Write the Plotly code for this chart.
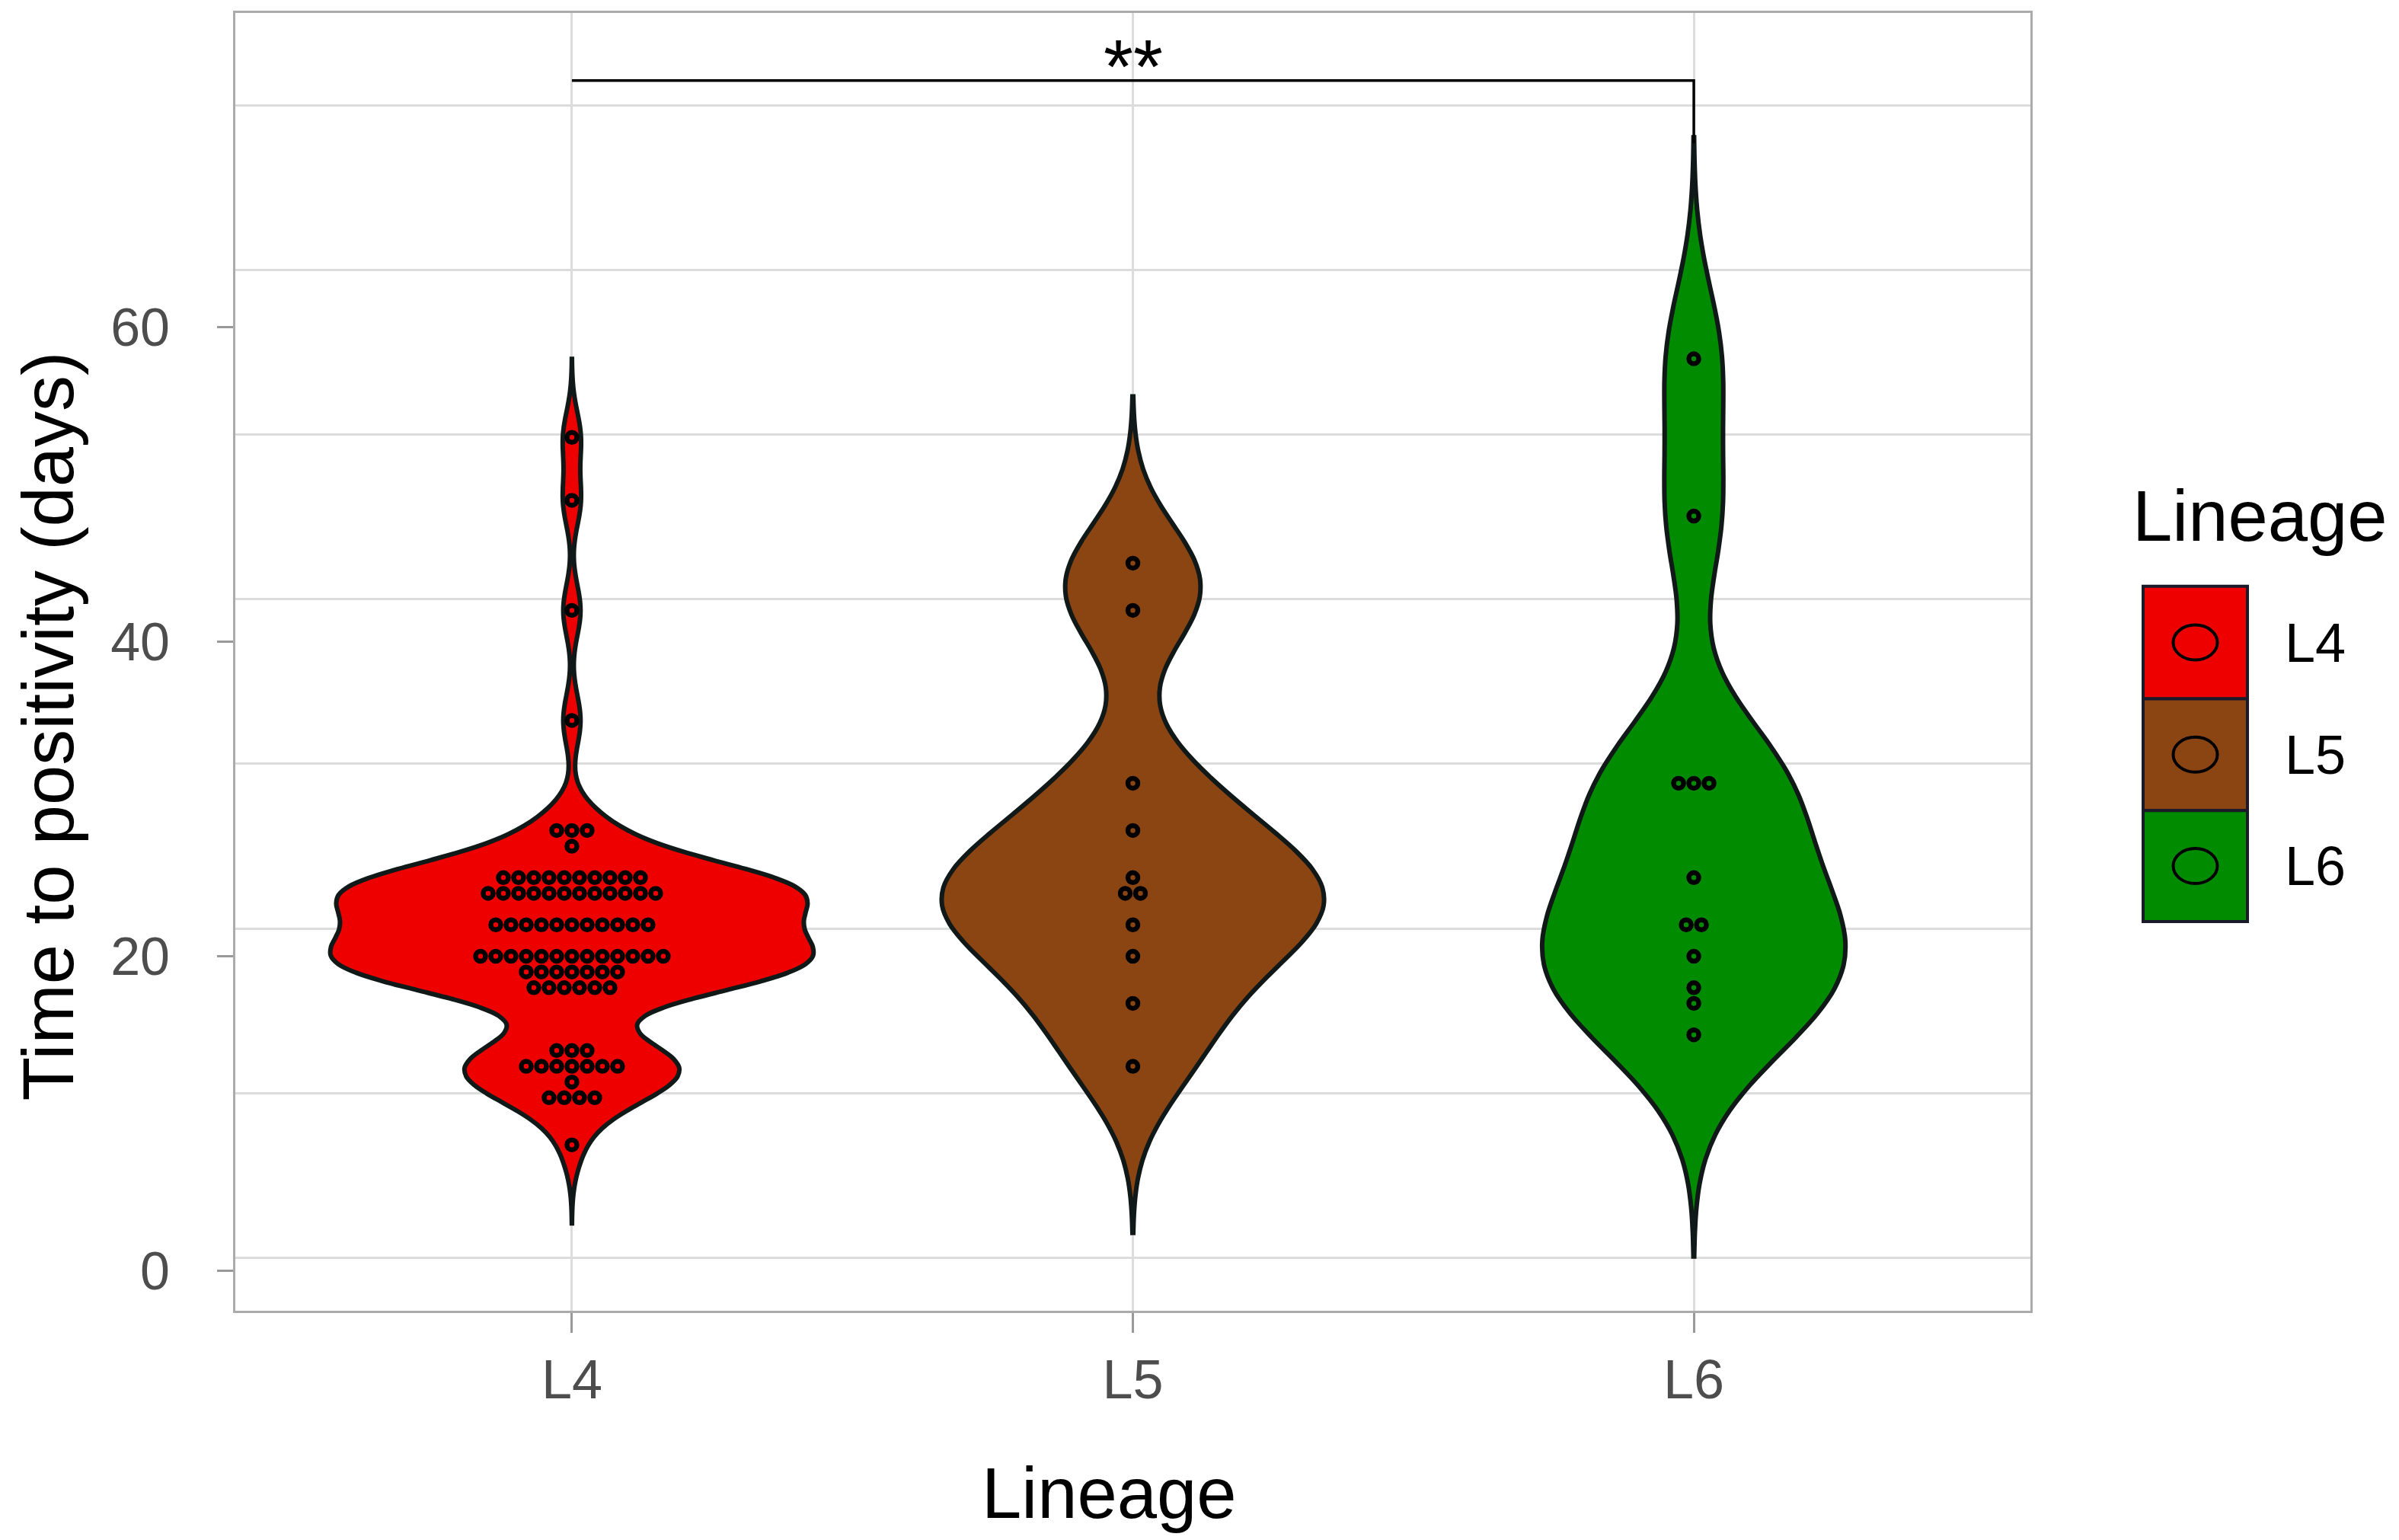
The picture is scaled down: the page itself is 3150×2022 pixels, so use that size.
import numpy as np
import plotly.graph_objects as go

# ---------------- data ----------------
categories = ["L4", "L5", "L6"]

l4_days = [8, 11, 12, 13, 14, 18, 19, 20, 22, 24, 25, 27, 28, 35, 42, 49, 53]
l4_counts = [1, 4, 1, 7, 3, 6, 7, 13, 11, 12, 10, 1, 3, 1, 1, 1, 1]

l5_days = [13, 17, 20, 22, 24, 25, 28, 31, 42, 45]
l5_counts = [1, 1, 1, 1, 2, 1, 1, 1, 1, 1]

l6_days = [15, 17, 18, 20, 22, 25, 31, 48, 58]
l6_counts = [1, 1, 1, 1, 2, 1, 3, 1, 1]

y_tick_values = [0, 20, 40, 60]
significance_label = "**"
significance_y = 75.7

# ---------------- styling ----------------
fill_colors = ["#EE0000", "#8B4513", "#008B00"]
violin_widths = [0.86, 0.68, 0.54]
FONT = "Liberation Sans, Arial, sans-serif"
GRID = "#DCDCDC"

W, H = 3150, 2022
L, R, T, B = 301, 2658, 6, 1713
PW, PH = R - L, B - T
x_range = [-0.6, 2.6]
y_range = [-2.55, 80.0]
# the picture's horizontal grid is offset / rescaled from its tick labels
grid_off, grid_scale = 0.82, 1.0474
y2_range = [(y_range[0] - grid_off) / grid_scale, (y_range[1] - grid_off) / grid_scale]


def px_x(px):
    return (px - L) / PW


def px_y(py):
    return (B - py) / PH


def nrd0(v):
    v = np.asarray(v, float)
    sd = v.std(ddof=1)
    q75, q25 = np.percentile(v, [75, 25])
    lo = min(sd, (q75 - q25) / 1.34)
    return 0.9 * lo * len(v) ** -0.2


groups = [(l4_days, l4_counts), (l5_days, l5_counts), (l6_days, l6_counts)]

fig = go.Figure()

dot_px = 20.0
dx = dot_px / (PW / (x_range[1] - x_range[0]))

for i, (days, counts) in enumerate(groups):
    vals = np.repeat(np.asarray(days, float), counts)
    bw = nrd0(vals)
    fig.add_trace(go.Violin(
        x0=i, y=vals, name=categories[i],
        fillcolor=fill_colors[i], opacity=1,
        line=dict(color="#101818", width=6),
        bandwidth=bw, spanmode="manual",
        span=[vals.min() - 3 * bw, vals.max() + 3 * bw],
        scalemode="width", width=violin_widths[i],
        points=False, box_visible=False, meanline_visible=False,
        showlegend=False, hoverinfo="skip",
    ))
    xs, ys = [], []
    for d, c in zip(days, counts):
        for k in range(c):
            xs.append(i + (k - (c - 1) / 2) * dx)
            ys.append(d)
    fig.add_trace(go.Scatter(
        x=xs, y=ys, mode="markers", showlegend=False, hoverinfo="skip",
        marker=dict(size=13, color=fill_colors[i], line=dict(color="black", width=6.5)),
    ))

# significance bracket
fig.add_trace(go.Scatter(
    x=[0, 2, 2], y=[significance_y, significance_y, significance_y - 4.0],
    mode="lines", line=dict(color="black", width=3.5), showlegend=False, hoverinfo="skip",
))
# empty trace to bind the grid axis
fig.add_trace(go.Scatter(x=[], y=[], yaxis="y2", showlegend=False))

annotations = [
    dict(x=1, y=significance_y + 0.9, xref="x", yref="y", text=significance_label,
         showarrow=False, xanchor="center", yanchor="middle",
         font=dict(family=FONT, size=100, color="black")),
    dict(x=px_x(55), y=px_y(944), xref="paper", yref="paper",
         text="Time to positivity (days)", textangle=-90, showarrow=False,
         xanchor="center", yanchor="middle",
         font=dict(family=FONT, size=94, color="black")),
    dict(x=px_x(1448), y=px_y(1953), xref="paper", yref="paper",
         text="Lineage", showarrow=False, xanchor="center", yanchor="middle",
         font=dict(family=FONT, size=94, color="black")),
    dict(x=px_x(2790), y=px_y(668), xref="paper", yref="paper",
         text="Lineage", showarrow=False, xanchor="left", yanchor="middle",
         font=dict(family=FONT, size=94, color="black")),
]

shapes = []
key_x0, key_x1 = 2806, 2943
key_edges = [760, 908, 1055, 1201]
for i, cat in enumerate(categories):
    y0p, y1p = key_edges[i], key_edges[i + 1]
    shapes.append(dict(type="rect", xref="paper", yref="paper",
                       x0=px_x(key_x0), x1=px_x(key_x1), y0=px_y(y1p), y1=px_y(y0p),
                       fillcolor=fill_colors[i], line=dict(color="#1a1a2a", width=4)))
    cy = (y0p + y1p) / 2
    cx = (key_x0 + key_x1) / 2
    shapes.append(dict(type="circle", xref="paper", yref="paper",
                       x0=px_x(cx - 29), x1=px_x(cx + 29), y0=px_y(cy + 23), y1=px_y(cy - 23),
                       line=dict(color="black", width=4)))
    annotations.append(dict(x=px_x(2990), y=px_y(cy), xref="paper", yref="paper",
                            text=cat, showarrow=False, xanchor="left", yanchor="middle",
                            font=dict(family=FONT, size=72, color="black")))

fig.update_layout(
    width=W, height=H,
    margin=dict(l=L, r=W - R, t=T, b=H - B),
    paper_bgcolor="white", plot_bgcolor="white",
    showlegend=False,
    font=dict(family=FONT, color="#4D4D4D"),
    xaxis=dict(range=x_range, tickvals=[0, 1, 2], ticktext=categories,
               showgrid=True, gridcolor=GRID, gridwidth=3, zeroline=False,
               ticks="outside", ticklen=26, tickwidth=3, tickcolor="#999999",
               showline=True, mirror=True, linecolor="#ABABAB", linewidth=3,
               tickfont=dict(family=FONT, size=72, color="#4D4D4D"),
               ticklabelstandoff=0),
    yaxis=dict(range=y_range, tickvals=y_tick_values,
               showgrid=False, zeroline=False,
               ticks="outside", ticklen=21, tickwidth=3, tickcolor="#999999",
               showline=True, mirror=True, linecolor="#ABABAB", linewidth=3,
               tickfont=dict(family=FONT, size=70, color="#4D4D4D"),
               ticklabelstandoff=48),
    yaxis2=dict(range=y2_range, overlaying="y", side="left", tick0=0, dtick=10,
                showgrid=True, gridcolor=GRID, gridwidth=3, zeroline=False,
                showticklabels=False, ticks="", showline=False),
    annotations=annotations,
    shapes=shapes,
)

fig.write_html("out.html")
